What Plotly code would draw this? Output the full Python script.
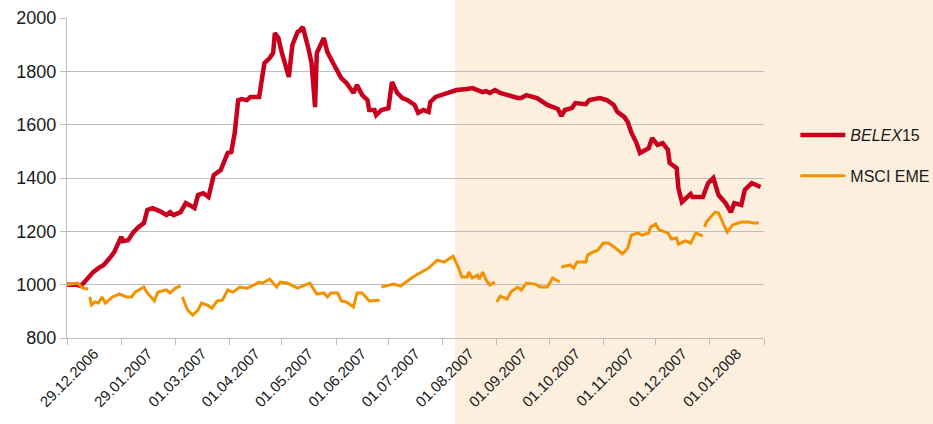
import pandas as pd
import plotly.graph_objects as go

START = "2006-12-29"

# BELEX15: (days since start, index value)
belex_day = [0, 5, 8, 13, 15, 18, 21, 25, 27, 31, 32, 35, 38, 41, 44, 46, 49, 53, 57, 59,
             61, 65, 68, 70, 73, 75, 78, 81, 83, 84, 88, 90, 92, 94, 96, 98, 100, 103, 105, 110,
             112, 113, 116, 118, 119, 121, 123, 127, 129, 132, 133, 135, 138, 140, 142, 143, 147, 149, 152, 157,
             160, 164, 166, 169, 172, 173, 176, 177, 180, 184, 186, 189, 192, 195, 199, 201, 204, 207, 208, 211,
             218, 223, 229, 232, 238, 240, 242, 245, 248, 252, 258, 260, 263, 269, 275, 281, 283, 285, 289, 291,
             297, 299, 305, 309, 313, 315, 319, 321, 323, 326, 328, 333, 335, 338, 341, 344, 345, 349, 350, 352,
             355, 357, 358, 364, 367, 370, 373, 377, 380, 382, 386, 388, 392, 397]
belex_val = [1000, 1000, 995, 1036, 1047, 1062, 1074, 1104, 1122, 1179, 1163, 1167, 1197, 1216, 1231, 1280, 1287, 1276, 1261, 1272,
             1261, 1272, 1306, 1299, 1287, 1336, 1343, 1329, 1381, 1411, 1430, 1467, 1494, 1497, 1569, 1692, 1696, 1692, 1704, 1704,
             1779, 1831, 1850, 1869, 1944, 1925, 1869, 1779, 1899, 1948, 1951, 1966, 1891, 1831, 1666, 1869, 1925, 1873, 1835, 1775,
             1756, 1719, 1749, 1711, 1692, 1655, 1655, 1636, 1655, 1662, 1760, 1719, 1700, 1692, 1674, 1644, 1655, 1648, 1685, 1704,
             1719, 1730, 1734, 1737, 1722, 1726, 1719, 1730, 1719, 1711, 1700, 1700, 1711, 1700, 1674, 1659, 1633, 1655, 1662, 1681,
             1677, 1692, 1700, 1692, 1674, 1648, 1629, 1610, 1572, 1531, 1494, 1512, 1550, 1524, 1531, 1505, 1456, 1437, 1362, 1310,
             1325, 1340, 1329, 1329, 1381, 1400, 1336, 1306, 1272, 1306, 1299, 1355, 1381, 1366]

# MSCI EME: (days since start, index value); None marks missing data
msci_day = [0, 6, 9, 12, 12.5, 13, 14, 16, 18, 20, 22, 26, 30, 34, 37, 39, 44, 46, 50, 52,
            57, 59, 62, 65, 65.5, 66, 69, 72, 75, 77, 80, 83, 86, 89, 92, 95, 99, 103, 106, 110,
            112, 116, 120, 122, 126, 132, 135, 139, 143, 147, 149, 151, 155, 157, 160, 164, 166, 169, 173, 179,
            179.5, 180, 185, 187, 191, 194, 198, 202, 207, 212, 216, 221, 224, 226, 229, 230, 232, 235, 236, 238,
            240, 242, 245, 245.5, 246, 248, 252, 254, 258, 260, 263, 268, 271, 275, 278, 282, 282.5, 283, 288, 290,
            292, 297, 298, 301, 304, 307, 310, 314, 318, 321, 323, 327, 329, 333, 334, 337, 339, 344, 346, 349,
            350, 354, 357, 360, 364, 364.5, 365, 366, 371, 373, 376, 378, 381, 386, 390, 393, 396]
msci_val = [1000, 1006, 987, 984, None, 954, 924, 935, 931, 954, 931, 954, 965, 954, 954, 972, 991, 969, 939, 972,
            980, 969, 987, 995, None, 954, 905, 886, 905, 931, 924, 912, 939, 942, 980, 972, 991, 987, 995, 1010,
            1006, 1021, 991, 1010, 1006, 987, 995, 1006, 965, 969, 954, 969, 969, 939, 935, 916, 969, 969, 939, 942,
            None, 991, 999, 1002, 995, 1010, 1029, 1044, 1062, 1092, 1085, 1107, 1065, 1029, 1029, 1047, 1025, 1036, 1021, 1047,
            1017, 999, 1010, None, 935, 957, 946, 972, 991, 980, 1006, 1002, 991, 991, 1025, 1010, None, 1066, 1074, 1062,
            1085, 1085, 1111, 1122, 1130, 1156, 1156, 1137, 1115, 1137, 1186, 1194, 1186, 1194, 1216, 1227, 1205, 1194, 1171, 1175,
            1152, 1164, 1156, 1194, 1182, None, 1216, 1235, 1272, 1269, 1224, 1197, 1224, 1235, 1235, 1231, 1231]

# month boundaries on the time axis; labels sit between them
boundary_dates = ["2006-12-29", "2007-01-29", "2007-03-01", "2007-04-01", "2007-05-01",
                  "2007-06-01", "2007-07-01", "2007-08-01", "2007-09-01", "2007-10-01",
                  "2007-11-01", "2007-12-01", "2008-01-01", "2008-02-01"]
shade_start = "2007-08-08"

start = pd.Timestamp(START)
belex_x = start + pd.to_timedelta(belex_day, unit="D")
msci_x = start + pd.to_timedelta(msci_day, unit="D")

bounds = pd.to_datetime(boundary_dates)
label_pos = [bounds[i] + (bounds[i + 1] - bounds[i]) / 2 for i in range(len(bounds) - 1)]
label_text = [d.strftime("%d.%m.%Y") for d in bounds[:-1]]

x0, x1 = bounds[0], bounds[-1]
shade_paper = (pd.Timestamp(shade_start) - x0) / (x1 - x0)

RED = "#C8001E"
ORANGE = "#F39200"
GRID = "#BDBDBD"
FONT = "Liberation Sans, Arial, sans-serif"

fig = go.Figure()
fig.add_trace(go.Scatter(x=belex_x, y=belex_val, mode="lines", name="<i>BELEX</i>15",
                         line=dict(color=RED, width=4.5), legendgroup="a"))
fig.add_trace(go.Scatter(x=msci_x, y=msci_val, mode="lines", name="MSCI EME",
                         line=dict(color=ORANGE, width=3), connectgaps=False, legendgroup="b"))

fig.add_shape(type="rect", xref="paper", yref="paper",
              x0=shade_paper, x1=1.4, y0=-0.4, y1=1.2,
              fillcolor="#FDEFDE", line=dict(width=0), layer="below")

fig.update_layout(
    width=933, height=424,
    margin=dict(l=67, r=169, t=18, b=86, autoexpand=False),
    paper_bgcolor="white", plot_bgcolor="rgba(0,0,0,0)",
    font=dict(family=FONT, color="#1a1a1a"),
    showlegend=True,
    legend=dict(x=1.045, xanchor="left", y=0.57, yanchor="middle",
                font=dict(size=16, family=FONT), tracegroupgap=17,
                bgcolor="rgba(0,0,0,0)", itemwidth=45),
)
fig.update_xaxes(
    type="date", range=[x0, x1],
    tickmode="array", tickvals=label_pos, ticktext=label_text,
    tickangle=-45, ticks="", tickfont=dict(size=15, family=FONT),
    showgrid=False, showline=True, linecolor=GRID, linewidth=1.3,
    minor=dict(tickmode="array", tickvals=list(bounds), ticks="outside",
               ticklen=6, tickcolor=GRID, tickwidth=1.3, showgrid=False),
)
fig.update_yaxes(
    range=[800, 2000], dtick=200, tick0=800,
    showgrid=True, gridcolor=GRID, gridwidth=1.3,
    showline=True, linecolor=GRID, linewidth=1.3,
    ticks="outside", ticklen=6, tickcolor=GRID, tickwidth=1.3,
    tickfont=dict(size=18, family=FONT), zeroline=False,
)

fig.write_html("out.html",
               config={"displayModeBar": False},
               post_script="document.body.style.margin='0';document.body.style.padding='0';")
